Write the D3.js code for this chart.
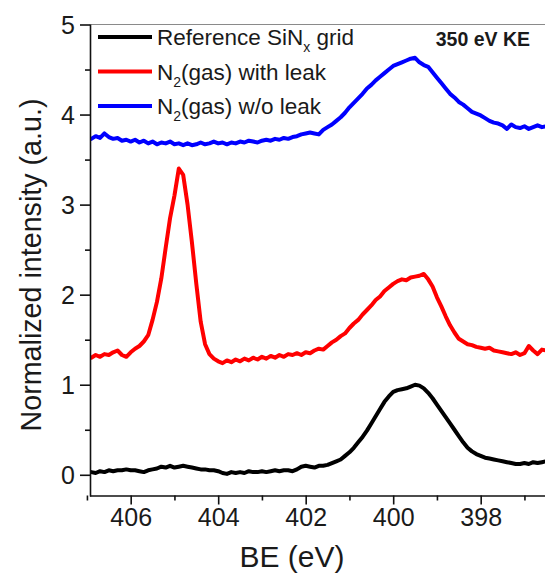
<!DOCTYPE html>
<html><head><meta charset="utf-8">
<script src="https://cdn.jsdelivr.net/npm/d3@7"></script>
<style>body{margin:0;background:#fff}svg{display:block}</style>
</head><body><svg id="c" width="545" height="575"></svg>
<script>
// Binding energy grid (eV)
const be = [
406.9,406.8,406.7,406.6,406.5,406.4,406.3,406.2,406.1,406.0,
405.9,405.8,405.7,405.6,405.5,405.4,405.3,405.2,405.1,405.0,
404.9,404.8,404.7,404.6,404.5,404.4,404.3,404.2,404.1,404.0,
403.9,403.8,403.7,403.6,403.5,403.4,403.3,403.2,403.1,403.0,
402.9,402.8,402.7,402.6,402.5,402.4,402.3,402.2,402.1,402.0,
401.9,401.8,401.7,401.6,401.5,401.4,401.3,401.2,401.1,401.0,
400.9,400.8,400.7,400.6,400.5,400.4,400.3,400.2,400.1,400.0,
399.9,399.8,399.7,399.6,399.5,399.4,399.3,399.2,399.1,399.0,
398.9,398.8,398.7,398.6,398.5,398.4,398.3,398.2,398.1,398.0,
397.9,397.8,397.7,397.6,397.5,397.4,397.3,397.2,397.1,397.0,
396.9,396.8,396.7,396.6,396.5];

const referenceSiNx = [
0.03,0.02,0.04,0.03,0.05,0.04,0.05,0.05,0.06,0.05,
0.05,0.04,0.03,0.05,0.06,0.07,0.09,0.08,0.10,0.08,
0.09,0.10,0.09,0.08,0.07,0.06,0.06,0.05,0.05,0.04,
0.02,0.01,0.03,0.02,0.03,0.02,0.04,0.03,0.03,0.04,
0.03,0.04,0.05,0.04,0.05,0.05,0.04,0.06,0.09,0.10,
0.09,0.08,0.10,0.10,0.11,0.13,0.15,0.17,0.21,0.25,
0.30,0.36,0.42,0.49,0.57,0.65,0.73,0.81,0.87,0.92,
0.94,0.95,0.96,0.98,1.00,0.99,0.96,0.91,0.85,0.78,
0.71,0.64,0.57,0.50,0.43,0.36,0.30,0.26,0.23,0.21,
0.19,0.18,0.17,0.16,0.15,0.14,0.13,0.12,0.12,0.13,
0.12,0.14,0.13,0.14,0.15];

const gasWithLeak = [
1.30,1.33,1.31,1.34,1.33,1.36,1.38,1.33,1.31,1.36,
1.40,1.43,1.48,1.55,1.72,1.92,2.18,2.52,2.85,3.10,
3.40,3.33,3.00,2.58,2.12,1.70,1.45,1.34,1.29,1.26,
1.24,1.27,1.25,1.28,1.26,1.29,1.27,1.30,1.28,1.31,
1.29,1.32,1.30,1.33,1.31,1.34,1.33,1.35,1.33,1.36,
1.35,1.38,1.40,1.39,1.43,1.47,1.50,1.54,1.57,1.63,
1.68,1.72,1.78,1.83,1.88,1.94,1.98,2.04,2.08,2.12,
2.15,2.17,2.16,2.19,2.20,2.21,2.23,2.17,2.09,1.97,
1.87,1.76,1.66,1.58,1.51,1.48,1.45,1.44,1.42,1.41,
1.40,1.41,1.38,1.37,1.36,1.35,1.34,1.36,1.33,1.35,
1.43,1.38,1.34,1.39,1.38];

const gasWithoutLeak = [
3.73,3.76,3.74,3.79,3.75,3.73,3.74,3.71,3.72,3.70,
3.72,3.69,3.71,3.68,3.70,3.67,3.69,3.68,3.70,3.67,
3.68,3.66,3.68,3.66,3.67,3.69,3.67,3.68,3.70,3.68,
3.69,3.67,3.69,3.68,3.70,3.69,3.71,3.70,3.69,3.71,
3.72,3.71,3.73,3.72,3.74,3.73,3.75,3.76,3.78,3.79,
3.80,3.79,3.78,3.83,3.86,3.89,3.93,3.97,4.02,4.08,
4.13,4.18,4.23,4.29,4.33,4.38,4.42,4.46,4.50,4.54,
4.56,4.58,4.60,4.62,4.63,4.58,4.55,4.53,4.47,4.41,
4.35,4.29,4.23,4.19,4.14,4.11,4.07,4.03,4.01,3.99,
3.96,3.93,3.91,3.90,3.88,3.84,3.89,3.86,3.85,3.87,
3.84,3.86,3.88,3.86,3.87];

const xMajor = [406,404,402,400,398];
const xMinor = [407,405,403,401,399,397];
const yMajor = [0,1,2,3,4,5];
const yMinor = [0.5,1.5,2.5,3.5,4.5];
// legend labels as [main, subscript, rest]
const legendLabels = [
  ["Reference SiN","x"," grid"],
  ["N","2","(gas) with leak"],
  ["N","2","(gas) w/o leak"]
];
const seriesColors = ["#000000","#ff0000","#0000ff"];
const annotation = "350 eV KE";
const xTitle = "BE (eV)";
const yTitle = "Normalized intensity (a.u.)";

const series = [referenceSiNx, gasWithLeak, gasWithoutLeak];

const L = 90, R = 560, T = 24.5, B = 495.5;
const x = d3.scaleLinear().domain([406.93, 406.93 - (R - L)/43.75]).range([L, R]);
const y = d3.scaleLinear().domain([-0.23, 5]).range([B, T]);

const svg = d3.select("#c");
const font = "'Liberation Sans', Arial, sans-serif";

svg.append("defs").append("clipPath").attr("id","clip")
  .append("rect").attr("x",L).attr("y",T).attr("width",R-L).attr("height",B-T);

// top frame line
svg.append("line").attr("x1",L).attr("x2",R).attr("y1",T).attr("y2",T)
  .attr("stroke","#8a8a8a").attr("stroke-width",1.2);

// data lines
const line = d3.line().x((d,i)=>x(be[i])).y(d=>y(d));
series.forEach((s,k)=>{
  svg.append("path").datum(s).attr("d",line).attr("clip-path","url(#clip)")
    .attr("fill","none").attr("stroke",seriesColors[k]).attr("stroke-width",4)
    .attr("stroke-linejoin","round").attr("stroke-linecap","round");
});

// axes
const gx = svg.append("g").attr("transform",`translate(0,${B})`)
  .call(d3.axisBottom(x).tickValues(xMajor).tickSize(9).tickPadding(4).tickFormat(d3.format("d")));
const gxm = svg.append("g").attr("transform",`translate(0,${B})`)
  .call(d3.axisBottom(x).tickValues(xMinor).tickSize(5).tickFormat(""));
const gy = svg.append("g").attr("transform",`translate(${L},0)`)
  .call(d3.axisLeft(y).tickValues(yMajor).tickSize(10).tickPadding(5).tickFormat(d3.format("d")));
const gym = svg.append("g").attr("transform",`translate(${L},0)`)
  .call(d3.axisLeft(y).tickValues(yMinor).tickSize(5).tickFormat(""));
[gx,gxm,gy,gym].forEach(g=>{
  g.select(".domain").attr("stroke","#111").attr("stroke-width",1.6);
  g.selectAll(".tick line").attr("stroke","#111").attr("stroke-width",1.6);
  g.selectAll("text").attr("font-family",font).attr("font-size",25).attr("fill","#1a1a1a");
});
gxm.select(".domain").remove();
gym.select(".domain").remove();
gy.select(".domain").attr("d",`M0.5,${T}V${B+1}`);
gx.select(".domain").attr("d",`M${L},0.5H${R}`);
gy.selectAll(".tick text").attr("dy","0.36em");

// axis titles
svg.append("text").attr("x",292).attr("y",567).attr("text-anchor","middle")
  .attr("font-family",font).attr("font-size",30).attr("fill","#1a1a1a").text(xTitle);
svg.append("text").attr("transform","translate(41,265) rotate(-90)").attr("text-anchor","middle")
  .attr("font-family",font).attr("font-size",30).attr("fill","#1a1a1a")
  .attr("textLength",333).attr("lengthAdjust","spacingAndGlyphs").text(yTitle);

// legend
const legY = [37, 71.5, 106];
legendLabels.forEach((lab,k)=>{
  svg.append("line").attr("x1",98).attr("x2",152).attr("y1",legY[k]).attr("y2",legY[k])
    .attr("stroke",seriesColors[k]).attr("stroke-width",4);
  const t = svg.append("text").attr("x",157).attr("y",legY[k]+8)
    .attr("font-family",font).attr("font-size",22.5).attr("fill","#1a1a1a");
  t.append("tspan").text(lab[0]);
  t.append("tspan").attr("font-size",14).attr("dy",7).text(lab[1]);
  t.append("tspan").attr("dy",-7).text(lab[2]);
});

svg.append("text").attr("x",530).attr("y",46).attr("text-anchor","end")
  .attr("font-family",font).attr("font-size",19.5).attr("font-weight","bold").attr("fill","#1a1a1a")
  .text(annotation);
</script></body></html>
